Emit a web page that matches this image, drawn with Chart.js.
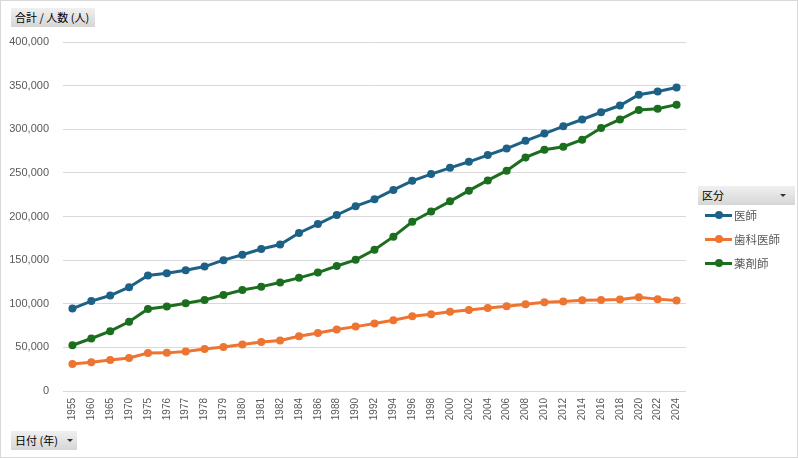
<!DOCTYPE html>
<html>
<head>
    <meta charset="utf-8">
    <title>医師・歯科医師・薬剤師数</title>
    <script src="https://cdn.jsdelivr.net/npm/chart.js"></script>
    <style type="text/css">
        html, body {
            margin: 0;
            padding: 0;
            background: #fff;
        }
        #wrap {
            position: relative;
            width: 798px;
            height: 458px;
            box-sizing: border-box;
            border: 1px solid #d9d9d9;
            overflow: hidden;
            font-family: "Noto Sans CJK JP", "Liberation Sans", sans-serif;
        }
        #chart {
            position: absolute;
            left: 0;
            top: 0;
        }
        .btn {
            position: absolute;
            height: 19px;
            line-height: 19px;
            font-size: 11px;
            color: #000;
            background: linear-gradient(#f0f0f0, #d6d6d6);
            padding: 0 4px;
            box-sizing: border-box;
            white-space: nowrap;
        }
        .arrow {
            position: absolute;
            top: 8px;
            width: 0;
            height: 0;
            border-left: 3px solid transparent;
            border-right: 3px solid transparent;
            border-top: 3px solid #333;
        }
        .legend-item {
            position: absolute;
            left: 704px;
            height: 16px;
            font-size: 11.5px;
            color: #595959;
            line-height: 16px;
        }
        .legend-item .ln {
            position: absolute;
            left: 0;
            top: 7px;
            width: 27px;
            height: 3px;
        }
        .legend-item .dot {
            position: absolute;
            left: 10px;
            top: 4px;
            width: 8px;
            height: 8px;
            border-radius: 50%;
        }
        .legend-item .tx {
            position: absolute;
            left: 29px;
            top: 0;
            white-space: nowrap;
        }
    </style>
</head>
<body>
<div id="wrap">
    <canvas id="chart" width="796" height="456"></canvas>
    <div class="btn" style="left:10px; top:7px; width:84px;">合計 / 人数 (人)</div>
    <div class="btn" style="left:10px; top:430px; width:66px;">日付 (年)<span class="arrow" style="left:56px;"></span></div>
    <div class="btn" style="left:697px; top:185px; width:97px;">区分<span class="arrow" style="left:82px;"></span></div>
    <div id="legend"></div>
</div>

<script type="text/javascript">
    // 年
    const years = ['1955', '1960', '1965', '1970', '1975', '1976', '1977', '1978', '1979', '1980', '1981',
        '1982', '1984', '1986', '1988', '1990', '1992', '1994', '1996', '1998', '2000', '2002', '2004',
        '2006', '2008', '2010', '2012', '2014', '2016', '2018', '2020', '2022', '2024'];

    // 医師
    const doctors = [94500, 103100, 109400, 119000, 132500, 134900, 138300, 142600, 150000, 156200, 162800,
        167900, 181100, 191300, 201700, 211800, 219700, 230500, 240900, 248600, 255800, 262700, 270400,
        277900, 286700, 295000, 303300, 311200, 319500, 327200, 339600, 343300, 347800];

    // 歯科医師
    const dentists = [31000, 33000, 35500, 37800, 43500, 43700, 45200, 48200, 50500, 53300, 56200,
        57800, 62800, 66500, 70400, 73800, 77300, 81100, 85600, 87900, 90800, 92900, 95200,
        97200, 99300, 101600, 102600, 104000, 104300, 104900, 107400, 105300, 103600];

    // 薬剤師
    const pharmacists = [52400, 60200, 68600, 79300, 94000, 96800, 100500, 104400, 110100, 115800, 119600,
        124300, 129700, 135700, 143300, 150300, 161900, 176900, 194000, 205700, 217400, 229600, 241400,
        252500, 267700, 276500, 280000, 288100, 301400, 311200, 322100, 323600, 328200];

    const seriesNames = ['医師', '歯科医師', '薬剤師'];
    const seriesColors = ['#1d6186', '#ee7431', '#1c6e1f'];

    const yTicks = [0, 50000, 100000, 150000, 200000, 250000, 300000, 350000, 400000];

    function makeSet(label, data, color) {
        return {
            label: label,
            data: data,
            borderColor: color,
            backgroundColor: color,
            borderWidth: 3,
            pointRadius: 4,
            pointBorderWidth: 0,
            pointBackgroundColor: color,
            tension: 0
        };
    }

    const ctx = document.getElementById('chart').getContext('2d');
    new Chart(ctx, {
        type: 'line',
        data: {
            labels: years,
            datasets: [
                makeSet(seriesNames[0], doctors, seriesColors[0]),
                makeSet(seriesNames[1], dentists, seriesColors[1]),
                makeSet(seriesNames[2], pharmacists, seriesColors[2])
            ]
        },
        options: {
            responsive: false,
            animation: false,
            layout: {
                padding: { top: 41, right: 111, bottom: 0, left: 0 }
            },
            plugins: {
                legend: { display: false },
                tooltip: { enabled: false }
            },
            scales: {
                x: {
                    offset: true,
                    grid: { display: false, drawTicks: false },
                    border: { display: false },
                    ticks: {
                        color: '#595959',
                        font: { family: 'Liberation Sans', size: 10 },
                        minRotation: 90,
                        maxRotation: 90,
                        autoSkip: false,
                        padding: 7
                    },
                    afterFit: function (s) { s.height = 66; }
                },
                y: {
                    min: 0,
                    max: 400000,
                    grid: { color: '#d9d9d9', lineWidth: 1, drawTicks: false },
                    border: { display: false },
                    afterBuildTicks: function (s) {
                        s.ticks = yTicks.map(v => ({ value: v }));
                    },
                    ticks: {
                        color: '#595959',
                        font: { family: 'Liberation Sans', size: 11 },
                        padding: 14,
                        callback: v => v.toLocaleString('en-US')
                    },
                    afterFit: function (s) { s.width = 62; }
                }
            }
        }
    });

    // 凡例
    const legendTops = [206, 230, 254];
    const legend = document.getElementById('legend');
    seriesNames.forEach(function (name, i) {
        const item = document.createElement('div');
        item.className = 'legend-item';
        item.style.top = legendTops[i] + 'px';
        item.innerHTML = '<span class="ln" style="background:' + seriesColors[i] + '"></span>' +
            '<span class="dot" style="background:' + seriesColors[i] + '"></span>' +
            '<span class="tx">' + name + '</span>';
        legend.appendChild(item);
    });
</script>
</body>
</html>
